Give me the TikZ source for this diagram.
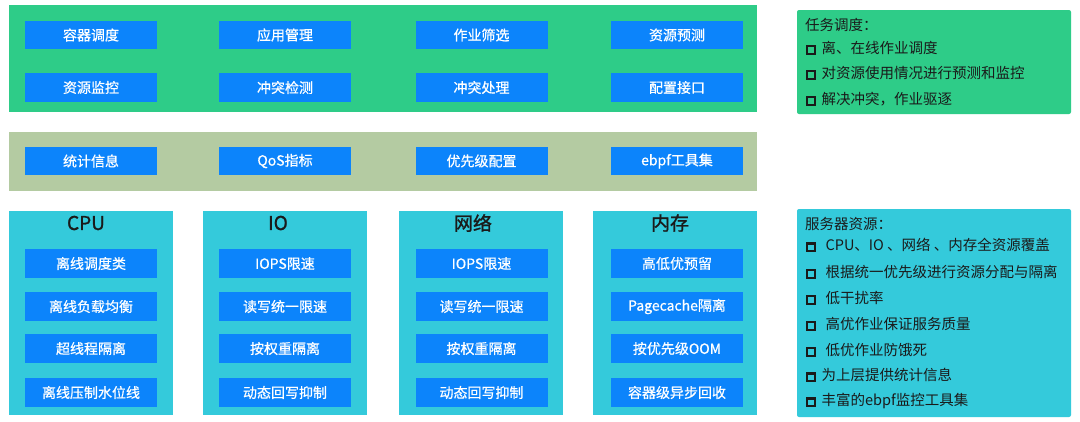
\documentclass[tikz,border=0pt]{standalone}
\usepackage{fontspec}
\setmainfont{Noto Sans CJK SC}
\newfontfamily\cjk{Noto Sans CJK SC}
\newfontfamily\cjkm[FakeBold=0.7]{Noto Sans CJK SC}
\newfontfamily\cjkb[FakeBold=1.2]{Noto Sans CJK SC}
\definecolor{pgreen}{HTML}{2ECC88}
\definecolor{polive}{HTML}{B4CBA2}
\definecolor{pcyan}{HTML}{34CADB}
\definecolor{bblue}{HTML}{0C84FB}
\definecolor{tdark}{HTML}{1A1A1A}
\newcommand\chk{\raisebox{0.8pt}{\setlength\fboxrule{2.1pt}\setlength\fboxsep{0pt}\fbox{\rule{0pt}{5.2pt}\hspace{5.2pt}}}}
\tikzset{
  panel/.style={inner sep=0pt, draw=none},
  bbox/.style={fill=bblue, text=white, minimum width=132pt, minimum height=28.5pt, inner sep=0pt, font=\cjkm\fontsize{14}{14}\selectfont},
  ttl/.style={text=tdark, inner sep=0pt, font=\cjkb\fontsize{19}{19}\selectfont},
  line/.style={anchor=west, text=tdark, inner sep=0pt, font=\cjk\fontsize{14.5}{14.5}\selectfont}
}
\begin{document}
\begin{tikzpicture}[x=1pt,y=-1pt]
\fill[white] (0,0) rectangle (1080,421);
\useasboundingbox (0,0) rectangle (1080,421);
% left panels
\node[panel, fill=pgreen, minimum width=748pt, minimum height=107pt] (top) at (383,58.5) {};
\node[panel, fill=polive, minimum width=748pt, minimum height=59pt] (mid) at (383,161.5) {};
\node[panel, fill=pcyan, minimum width=164pt, minimum height=204pt] (cpu) at (91,313) {};
\node[panel, fill=pcyan, minimum width=164pt, minimum height=204pt] (io) at (285,313) {};
\node[panel, fill=pcyan, minimum width=164pt, minimum height=204pt] (net) at (481,313) {};
\node[panel, fill=pcyan, minimum width=164pt, minimum height=204pt] (mem) at (675,313) {};
% top boxes
\node[bbox] (a1) at (91,35) {容器调度};
\node[bbox] (a2) at (285,35) {应用管理};
\node[bbox] (a3) at (481.5,35) {作业筛选};
\node[bbox] (a4) at (677,35) {资源预测};
\node[bbox] (b1) at (91,87.5) {资源监控};
\node[bbox] (b2) at (285,87.5) {冲突检测};
\node[bbox] (b3) at (481.5,87.5) {冲突处理};
\node[bbox] (b4) at (677,87.5) {配置接口};
% middle
\node[bbox] (c1) at (91,161) {统计信息};
\node[bbox] (c2) at (285,161) {QoS指标};
\node[bbox] (c3) at (481.5,161) {优先级配置};
\node[bbox] (c4) at (677,161) {ebpf工具集};
% titles
\node[ttl] (tcpu) at (86,223) {CPU};
\node[ttl] (tio) at (278,223) {IO};
\node[ttl] (tnet) at (473,223) {网络};
\node[ttl] (tmem) at (670,223) {内存};
% cpu
\node[bbox] (d1) at (91,263.5) {离线调度类};
\node[bbox] (d2) at (91,306.5) {离线负载均衡};
\node[bbox] (d3) at (91,348.5) {超线程隔离};
\node[bbox] (d4) at (91,392.5) {离线压制水位线};
% io
\node[bbox] (e1) at (285,263.5) {IOPS限速};
\node[bbox] (e2) at (285,306.5) {读写统一限速};
\node[bbox] (e3) at (285,348.5) {按权重隔离};
\node[bbox] (e4) at (285,392.5) {动态回写抑制};
% net
\node[bbox] (f1) at (481.5,263.5) {IOPS限速};
\node[bbox] (f2) at (481.5,306.5) {读写统一限速};
\node[bbox] (f3) at (481.5,348.5) {按权重隔离};
\node[bbox] (f4) at (481.5,392.5) {动态回写抑制};
% mem
\node[bbox] (g1) at (677,263.5) {高低优预留};
\node[bbox] (g2) at (677,306.5) {Pagecache隔离};
\node[bbox] (g3) at (677,348.5) {按优先级OOM};
\node[bbox] (g4) at (677,392.5) {容器级异步回收};
% right panels
\node[panel, fill=pgreen, rounded corners=2pt, minimum width=274pt, minimum height=104pt] (rp1) at (934,62) {};
\node[panel, fill=pcyan, rounded corners=2pt, minimum width=274pt, minimum height=208pt] (rp2) at (934,313) {};
\node[line] (t0) at (805,25) {任务调度：};
\node[line] (t1) at (806,48) {\chk\hspace{6pt}离、在线作业调度};
\node[line] (t2) at (806,73) {\chk\hspace{6pt}对资源使用情况进行预测和监控};
\node[line] (t3) at (806,99) {\chk\hspace{6pt}解决冲突，作业驱逐};
\node[line] (s0) at (805,224) {服务器资源：};
\node[line] (s1) at (806,245) {\chk\hspace{10pt}CPU、IO 、网络 、内存全资源覆盖};
\node[line] (s2) at (806,272) {\chk\hspace{10pt}根据统一优先级进行资源分配与隔离};
\node[line] (s3) at (806,298) {\chk\hspace{10pt}低干扰率};
\node[line] (s4) at (806,324) {\chk\hspace{10pt}高优作业保证服务质量};
\node[line] (s5) at (806,350) {\chk\hspace{10pt}低优作业防饿死};
\node[line] (s6) at (806,375) {\chk\hspace{6pt}为上层提供统计信息};
\node[line] (s7) at (806,401) {\chk\hspace{6pt}丰富的ebpf监控工具集};
\end{tikzpicture}
\end{document}
